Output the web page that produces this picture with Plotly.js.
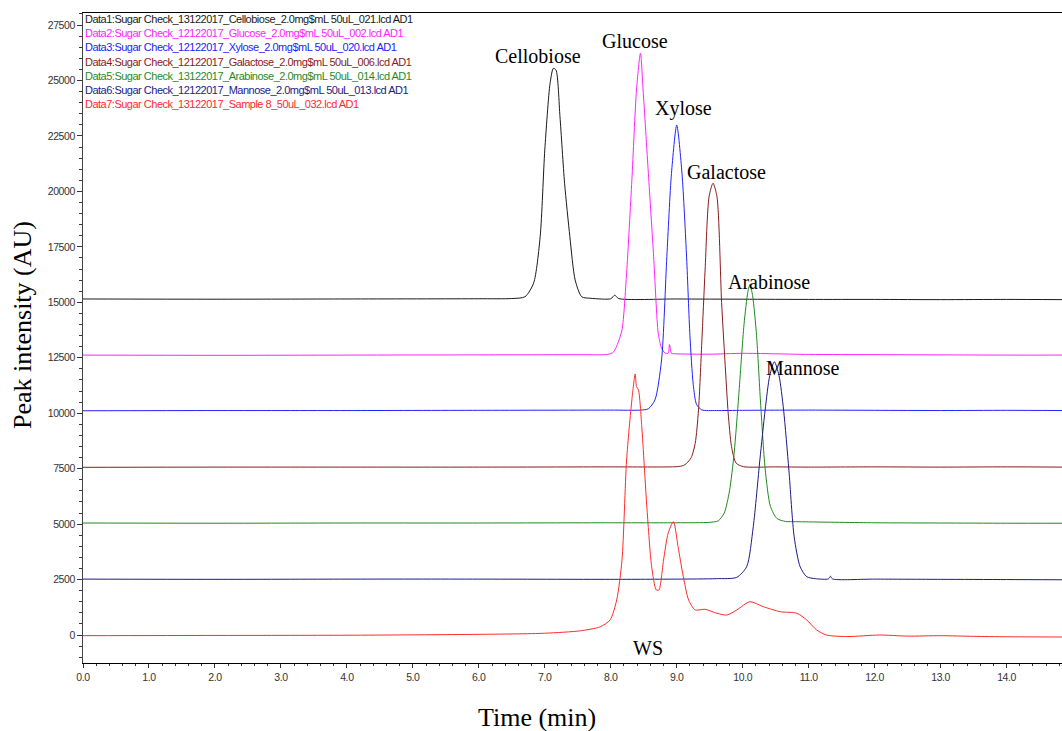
<!DOCTYPE html>
<html>
<head>
<meta charset="utf-8">
<script src="https://cdn.plot.ly/plotly-3.0.1.min.js"></script>
<style>html,body{margin:0;padding:0;background:#fff;}#chart{width:1062px;height:731px;}
text[data-unformatted^="Data"]{letter-spacing:-0.5px;}
</style>
</head>
<body>
<div id="chart"></div>
<script>
// ---- data ----
const seriesNames = [
  "Data1:Sugar Check_13122017_Cellobiose_2.0mg$mL 50uL_021.lcd AD1",
  "Data2:Sugar Check_12122017_Glucose_2.0mg$mL 50uL_002.lcd AD1",
  "Data3:Sugar Check_12122017_Xylose_2.0mg$mL 50uL_020.lcd AD1",
  "Data4:Sugar Check_12122017_Galactose_2.0mg$mL 50uL_006.lcd AD1",
  "Data5:Sugar Check_13122017_Arabinose_2.0mg$mL 50uL_014.lcd AD1",
  "Data6:Sugar Check_12122017_Mannose_2.0mg$mL 50uL_013.lcd AD1",
  "Data7:Sugar Check_13122017_Sample 8_50uL_032.lcd AD1"
];
const seriesColors = ["#1a1a1a", "#ff22ff", "#2222ff", "#8b1a1a", "#1f8a1f", "#1a1a8b", "#ff2a2a"];

const cellobioseX = [0, 2, 4, 6, 6.5, 6.70, 6.83, 6.93, 7.00, 7.08, 7.13, 7.17, 7.23, 7.30, 7.38, 7.46, 7.56, 7.7, 8.0, 8.06, 8.12, 9, 10, 11, 12, 13, 14, 14.84];
const cellobioseY = [15150, 15140, 15150, 15160, 15170, 15250, 15860, 17960, 21870, 24870, 25550, 25470, 23370, 20370, 17960, 16010, 15250, 15180, 15160, 15320, 15170, 15150, 15140, 15130, 15130, 15120, 15130, 15120];

const glucoseX = [0, 2, 4, 6, 7.5, 7.95, 8.04, 8.10, 8.17, 8.24, 8.32, 8.39, 8.45, 8.49, 8.57, 8.65, 8.72, 8.77, 8.82, 8.87, 8.89, 8.92, 8.97, 9.5, 10, 11, 12, 13, 14, 14.84];
const glucoseY = [12620, 12610, 12620, 12630, 12640, 12650, 12750, 13100, 13750, 16310, 20510, 24570, 26230, 24570, 20810, 17060, 13600, 12930, 12720, 12700, 13100, 12700, 12680, 12660, 12700, 12650, 12640, 12630, 12620, 12620];

const xyloseX = [0, 2, 4, 6, 8, 8.45, 8.57, 8.67, 8.77, 8.85, 8.92, 9.00, 9.08, 9.15, 9.20, 9.25, 9.30, 9.38, 9.6, 10, 11, 12, 13, 14, 14.84];
const xyloseY = [10110, 10120, 10120, 10130, 10140, 10140, 10200, 10600, 12400, 17060, 20810, 22990, 20800, 17000, 13500, 11300, 10400, 10150, 10120, 10130, 10140, 10130, 10120, 10130, 10120];

const galactoseX = [0, 2, 4, 6, 8, 9.0, 9.10, 9.15, 9.22, 9.28, 9.33, 9.38, 9.43, 9.49, 9.55, 9.61, 9.68, 9.73, 9.78, 9.83, 9.90, 10.01, 10.5, 11, 12, 13, 14, 14.84];
const galactoseY = [7560, 7570, 7570, 7570, 7580, 7590, 7640, 7740, 8000, 8640, 10140, 13200, 16460, 19760, 20370, 19760, 15000, 12400, 10000, 8500, 7750, 7590, 7580, 7570, 7580, 7570, 7580, 7570];

const arabinoseX = [0, 2, 4, 6, 8, 9.0, 9.5, 9.63, 9.72, 9.80, 9.87, 9.94, 10.02, 10.08, 10.11, 10.15, 10.21, 10.27, 10.34, 10.42, 10.52, 10.65, 10.8, 11, 12, 13, 14, 14.84];
const arabinoseY = [5050, 5040, 5050, 5050, 5060, 5060, 5080, 5150, 5500, 6500, 8200, 10800, 14000, 15500, 15800, 15300, 13500, 10500, 7500, 5800, 5250, 5120, 5110, 5100, 5060, 5050, 5040, 5040];

const mannoseX = [0, 2, 4, 6, 8, 9, 9.6, 9.91, 10.06, 10.16, 10.26, 10.34, 10.41, 10.48, 10.55, 10.62, 10.70, 10.78, 10.87, 10.97, 11.1, 11.30, 11.33, 11.36, 12, 13, 14, 14.84];
const mannoseY = [2520, 2510, 2520, 2520, 2510, 2520, 2540, 2600, 3080, 4880, 7890, 10140, 11700, 12320, 11700, 10140, 7440, 4430, 3080, 2630, 2540, 2530, 2650, 2530, 2520, 2510, 2500, 2490];

const sampleX = [0, 2, 4, 6, 7.0, 7.54, 7.84, 7.99, 8.09, 8.17, 8.24, 8.32, 8.37, 8.39, 8.42, 8.47, 8.55, 8.62, 8.69, 8.73, 8.80, 8.87, 8.95, 9.02, 9.10, 9.18, 9.28, 9.43, 9.61, 9.76, 9.91, 10.11, 10.31, 10.57, 10.82, 10.97, 11.12, 11.27, 11.58, 12.08, 12.5, 13, 13.5, 14, 14.84];
const sampleY = [-30, -20, -10, 30, 80, 190, 370, 680, 1580, 3380, 7890, 10600, 11770, 11200, 11050, 9390, 5640, 3080, 2030, 2030, 3380, 4590, 5110, 3980, 2630, 1580, 1130, 1160, 980, 900, 1130, 1500, 1280, 1050, 980, 680, 230, 0, -70, 0, -50, -30, -60, -80, -90];

const peakLabels = ["Cellobiose", "Glucose", "Xylose", "Galactose", "Arabinose", "Mannose", "WS"];
const peakLabelX = [6.90, 8.36, 9.10, 9.76, 10.40, 10.91, 8.57];
const peakLabelY = [26100, 26780, 23760, 20870, 15920, 12040, -590];

const xTitle = "Time (min)";
const yTitle = "Peak intensity (AU)";
// -----------------------------------------------------

const xs = [cellobioseX, glucoseX, xyloseX, galactoseX, arabinoseX, mannoseX, sampleX];
const ys = [cellobioseY, glucoseY, xyloseY, galactoseY, arabinoseY, mannoseY, sampleY];

const traces = xs.map((x, i) => ({
  x: x, y: ys[i], type: 'scatter', mode: 'lines', name: seriesNames[i],
  line: {color: seriesColors[i], width: 1, shape: 'spline', smoothing: 0.7},
  hoverinfo: 'x+y'
}));

const annotations = [];
const narrowFont = "Liberation Sans, Arial, sans-serif";
seriesNames.forEach((n, i) => {
  annotations.push({
    xref: 'paper', yref: 'paper', x: 0, y: (663 - (19.3 + i * 14.1)) / 650,
    xanchor: 'left', yanchor: 'middle', text: n, showarrow: false,
    font: {family: narrowFont, size: 11, color: seriesColors[i]}
  });
});
peakLabels.forEach((t, i) => {
  annotations.push({
    x: peakLabelX[i], y: peakLabelY[i], xref: 'x', yref: 'y', text: t, showarrow: false,
    xanchor: 'center', yanchor: 'middle',
    font: {family: "Liberation Serif, Times New Roman, serif", size: 20, color: '#000'}
  });
});
annotations.push({
  xref: 'paper', yref: 'paper', x: (537 - 83) / 979, y: (663 - 717) / 650,
  xanchor: 'center', yanchor: 'middle', text: xTitle, showarrow: false,
  font: {family: "Liberation Serif, Times New Roman, serif", size: 26, color: '#000'}
});
annotations.push({
  xref: 'paper', yref: 'paper', x: (22 - 83) / 979, y: (663 - 325) / 650,
  xanchor: 'center', yanchor: 'middle', text: yTitle, showarrow: false, textangle: -90,
  font: {family: "Liberation Serif, Times New Roman, serif", size: 26, color: '#000'}
});

const tickFont = {family: narrowFont, size: 10.5, color: '#333'};
const layout = {
  width: 1062, height: 731,
  margin: {l: 83, r: 0, t: 13, b: 68, pad: 0},
  paper_bgcolor: '#fff', plot_bgcolor: '#fff',
  showlegend: false,
  xaxis: {
    range: [0, 14.84], dtick: 1, tick0: 0, tickformat: '.1f',
    ticks: 'outside', ticklen: 4, tickcolor: '#333', tickwidth: 1,
    minor: {dtick: 0.2, ticks: 'outside', ticklen: 2, tickcolor: '#333', showgrid: false},
    showline: true, linecolor: '#000', linewidth: 1, mirror: true,
    showgrid: false, zeroline: false, tickfont: tickFont
  },
  yaxis: {
    range: [-1262, 28043], dtick: 2500, tick0: 0, tickformat: 'd',
    ticks: 'outside', ticklen: 5, tickcolor: '#333', tickwidth: 1,
    minor: {dtick: 500, ticks: 'outside', ticklen: 3, tickcolor: '#333', showgrid: false},
    showline: true, linecolor: '#444', linewidth: 1,
    showgrid: false, zeroline: false, tickfont: tickFont
  },
  annotations: annotations
};

Plotly.newPlot('chart', traces, layout, {displayModeBar: false, staticPlot: true}).then(() => {
  document.querySelectorAll('#chart .xtick text, #chart .ytick text').forEach(t => {
    t.style.letterSpacing = '-0.4px';
  });
});
</script>
</body>
</html>
